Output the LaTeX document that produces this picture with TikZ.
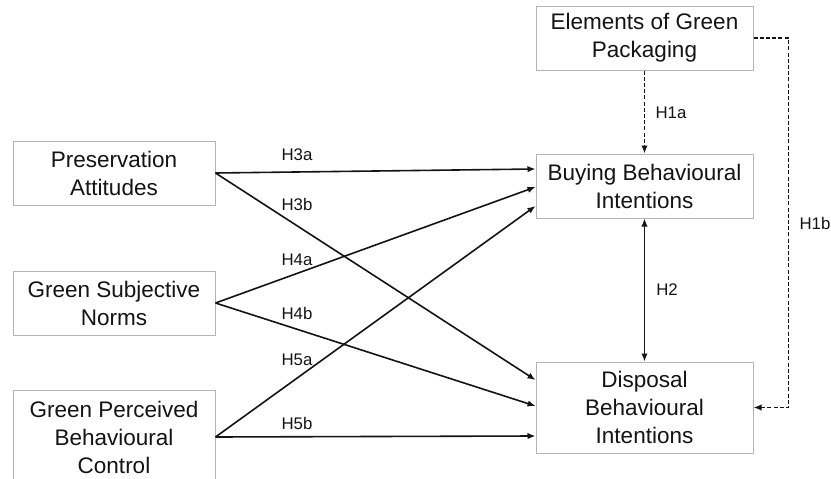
\documentclass[tikz,border=0pt]{standalone}
\usepackage{fontspec}
\setmainfont{Liberation Sans}
\usetikzlibrary{arrows.meta,calc}
\definecolor{boxgray}{HTML}{B4B4B4}
\definecolor{ink}{HTML}{141414}
\begin{document}
\begin{tikzpicture}[x=1pt,y=-1pt,
  box/.style={draw=boxgray,line width=1pt,align=center,inner sep=0pt,
    font=\fontsize{22.5}{28}\selectfont,text=ink},
  conn/.style={draw=ink,line width=1.6pt,-{Latex[length=8pt,width=6.5pt]}},
  dconn/.style={conn,dash pattern=on 4pt off 2.2pt},
  hlab/.style={font=\fontsize{16.8}{20}\selectfont,text=ink,inner sep=0pt}]
\useasboundingbox (0,0) rectangle (831,479);
\clip (0,0) rectangle (831,479);
\fill[white] (0,0) rectangle (831,479);
% boxes
\node[box,minimum width=217pt,minimum height=64pt] (egp) at (644.5,38) {Elements of Green\\Packaging};
\node[box,minimum width=217pt,minimum height=64pt] (bbi) at (644.5,186) {Buying Behavioural\\Intentions};
\node[box,minimum width=217pt,minimum height=91pt] (dbi) at (644.5,407.5) {Disposal\\Behavioural\\Intentions};
\node[box,minimum width=202pt,minimum height=64pt] (pa) at (114,173) {Preservation\\Attitudes};
\node[box,minimum width=202pt,minimum height=64pt] (gsn) at (114,303) {Green Subjective\\Norms};
\node[box,minimum width=202pt,minimum height=94pt] (gpbc) at (114,437) {Green Perceived\\Behavioural\\Control};
% connectors
\draw[conn] (pa.east) -- ([yshift=17pt]bbi.west);
\draw[conn] (pa.east) -- ([yshift=27.5pt]dbi.west);
\draw[conn] (gsn.east) -- ([yshift=-1pt]bbi.west);
\draw[conn] (gsn.east) -- ([yshift=1.5pt]dbi.west);
\draw[conn] (gpbc.east) -- ([yshift=-20pt]bbi.west);
\draw[conn] (gpbc.east) -- ([yshift=1pt]gpbc.east -| dbi.west);
\draw[conn,{Latex[length=8pt,width=6.5pt]}-{Latex[length=8pt,width=6.5pt]}] (bbi.south) -- (dbi.north);
\draw[dconn] (egp.south) -- (bbi.north);
\coordinate (turn) at ($(egp.east)+(35,0)$);
\draw[dconn] (egp.east) -- (turn) |- (dbi.east);
% labels
\node[hlab] (l3a) at (297,155) {H3a};
\node[hlab] (l3b) at (297,204) {H3b};
\node[hlab] (l4a) at (297,260) {H4a};
\node[hlab] (l4b) at (297,313) {H4b};
\node[hlab] (l5a) at (297,360) {H5a};
\node[hlab] (l5b) at (297,423) {H5b};
\node[hlab] (l1a) at (671,113) {H1a};
\node[hlab] (l1b) at (815,223) {H1b};
\node[hlab] (l2) at (667,290) {H2};
\end{tikzpicture}
\end{document}
